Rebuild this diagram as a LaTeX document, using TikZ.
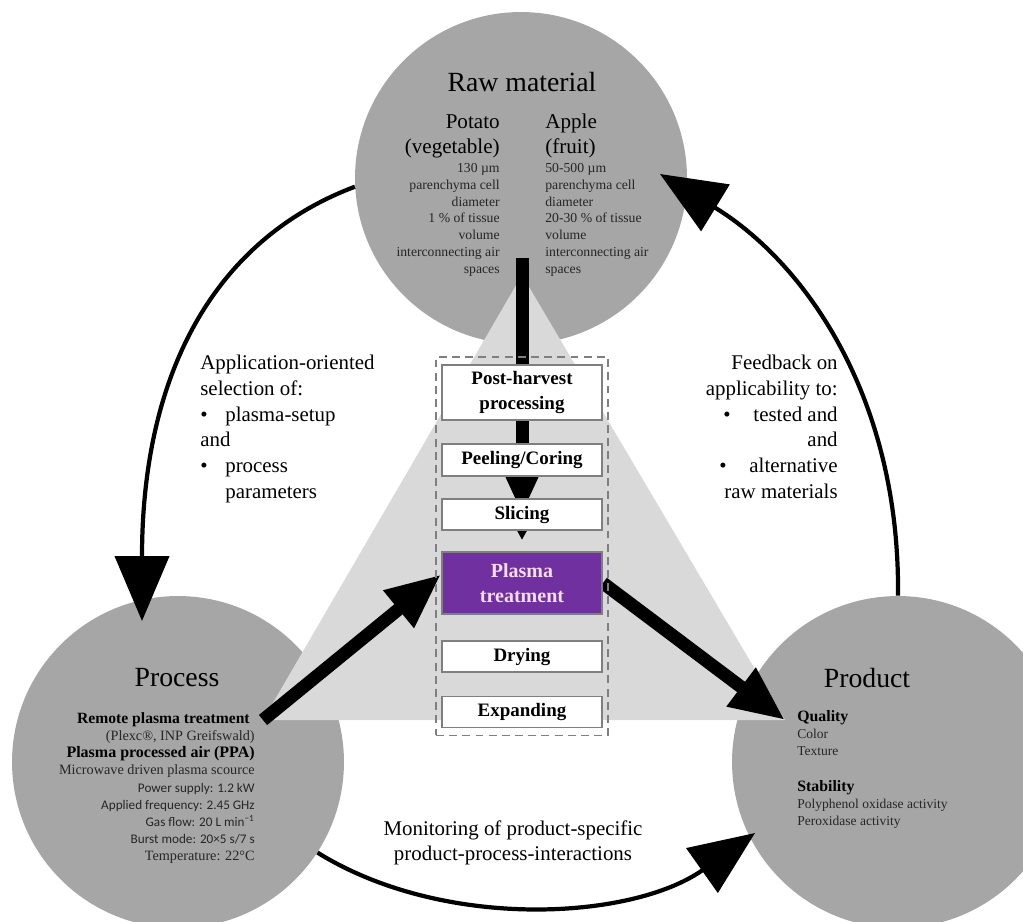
\documentclass[tikz,border=0pt]{standalone}
\usepackage{fontspec}
\setmainfont{Liberation Serif}
\newfontfamily\calfont{Carlito}
\usepackage{tikz}
\usetikzlibrary{arrows.meta,fit}

\definecolor{circgray}{HTML}{A6A6A6}
\definecolor{trigray}{HTML}{D9D9D9}
\definecolor{boxgray}{HTML}{7F7F7F}
\definecolor{plasmapurple}{HTML}{7030A0}
\definecolor{plasmatext}{HTML}{F4DDEA}
\definecolor{notegray}{HTML}{262626}

\pgfdeclarelayer{back}
\pgfdeclarelayer{mid}
\pgfsetlayers{back,mid,main}

\begin{document}
\begin{tikzpicture}[
    x=0.02cm, y=-0.02cm,
    circ/.style={circle, fill=circgray, minimum size=6.64cm, inner sep=0pt},
    circtitle/.style={font=\fontsize{15.8}{18}\selectfont, inner sep=0pt},
    fruit/.style={font=\fontsize{12}{14.2}\selectfont, inner sep=0pt},
    cellnote/.style={font=\fontsize{7.8}{9.56}\selectfont, text=notegray, inner sep=0pt},
    sidenote/.style={font=\fontsize{11.9}{14.6}\selectfont, inner sep=0pt},
    stepbox/.style={draw=boxgray, line width=1.1pt, fill=white, minimum width=3.2cm,
      inner sep=0pt, align=center, font=\fontsize{10.8}{14.2}\selectfont\bfseries},
    dashbox/.style={draw=boxgray, line width=1.1pt, dash pattern=on 4.5pt off 3pt,
      inner xsep=0.1cm, inner ysep=0.14cm},
    bigarr/.style={-{Triangle[length=1.1cm, width=0.9cm]}, line width=0.26cm},
    smallarr/.style={-{Triangle[length=0.4cm, width=0.4cm]}, line width=0.26cm},
    curvarr/.style={-{Triangle[length=1.3cm, width=1.08cm]}, line width=2.4pt},
  ]

  \useasboundingbox (0,0) rectangle (1023,921);

  % ── Circles and cone ─────────────────────────────────────────────────────

  \begin{pgfonlayer}{back}
    \fill[white] (0,0) rectangle (1023,921);
    \node[circ] (raw)  at (521,178) {};
    \node[circ] (proc) at (178,762) {};
    \node[circ] (prod) at (898,762) {};

    \coordinate (apex) at (522,275);
    \coordinate (tl)   at (263,720);
    \coordinate (tr)   at (785,720);
    \fill[trigray] (apex) -- (tl) -- (tr) -- cycle;
  \end{pgfonlayer}

  % ── Process line ─────────────────────────────────────────────────────────

  \node[stepbox, minimum height=1.1cm]  (post)    at (522,392.5) {Post-harvest\\processing};
  \node[stepbox, minimum height=0.64cm] (peel)    at (522,460)   {Peeling/Coring};
  \node[stepbox, minimum height=0.62cm] (slice)   at (522,514.5) {Slicing};
  \node[stepbox, minimum height=1.24cm, fill=plasmapurple, text=plasmatext,
        font=\fontsize{11.4}{14.6}\selectfont\bfseries] (plasma) at (522,583) {Plasma\\treatment};
  \node[stepbox, minimum height=0.62cm] (dry)     at (522,656.5) {Drying};
  \node[stepbox, minimum height=0.62cm] (expand)  at (522,712)   {Expanding};

  \node[dashbox, fit=(post)(expand)] (line) {};

  % ── Thick arrows (behind the boxes) ──────────────────────────────────────

  \coordinate (rawout) at (522,258);
  \begin{pgfonlayer}{mid}
    \draw[bigarr] (rawout) -- (slice.center);
    \draw[smallarr, shorten >=0.22cm] (slice.center) -- (plasma.north);
    \draw[bigarr] (tl) -- (plasma.174);
    \draw[bigarr] (plasma.east) -- (tr);
  \end{pgfonlayer}

  % ── Circle texts ─────────────────────────────────────────────────────────

  % Raw material
  \node[circtitle] (rawtitle) at (522,82) {Raw material};
  \node[fruit, anchor=north east, align=right] (potato) at (500,114) {Potato\\(vegetable)};
  \node[cellnote, anchor=north east, align=right] (potatonote) at (500,163)
    {130 µm\\parenchyma cell\\diameter\\1 \% of tissue\\volume\\interconnecting air\\spaces};
  \node[fruit, anchor=north west, align=left] (apple) at (545,114) {Apple\\(fruit)};
  \node[cellnote, anchor=north west, align=left] (applenote) at (545,163)
    {50-500 µm\\parenchyma cell\\diameter\\20-30 \% of tissue\\volume\\interconnecting air\\spaces};

  % Process
  \node[circtitle] (proctitle) at (177,678) {Process};
  \node[anchor=north east, align=right, inner sep=0pt, text=notegray,
        font=\fontsize{8.1}{9.8}\selectfont] (procnote) at (255,712)
    {{\color{black}\fontsize{8.9}{9.8}\selectfont\bfseries Remote plasma treatment}\hspace*{0.1cm}\\
     (Plexc®, INP Greifswald)\\
     {\color{black}\fontsize{9.1}{9.8}\selectfont\bfseries Plasma processed air (PPA)}\\
     Microwave driven plasma scource\\
     {\calfont\fontsize{7.5}{9.8}\selectfont Power supply: 1.2 kW}\\
     {\calfont\fontsize{7.5}{9.8}\selectfont Applied frequency: 2.45 GHz}\\
     {\calfont\fontsize{7.5}{9.8}\selectfont Gas flow: 20 L min\textsuperscript{−1}}\\
     {\calfont\fontsize{7.5}{9.8}\selectfont Burst mode: 20×5 s/7 s}\\
     Temperature: 22°C};

  % Product
  \node[circtitle] (prodtitle) at (867,678) {Product};
  \node[anchor=north west, align=left, inner sep=0pt, text=notegray,
        font=\fontsize{7.7}{9.7}\selectfont] (prodnote) at (797,710)
    {{\color{black}\fontsize{9}{9.7}\selectfont\bfseries Quality}\\
     Color\\
     Texture\\[11pt]
     {\color{black}\fontsize{9}{9.7}\selectfont\bfseries Stability}\\
     Polyphenol oxidase activity\\
     Peroxidase activity};

  % ── Cycle texts ──────────────────────────────────────────────────────────

  \node[sidenote, anchor=north west, align=left] (select) at (200,355)
    {Application-oriented\\selection of:\\
     \makebox[14.2pt][l]{•}plasma-setup\\and\\
     \makebox[14.2pt][l]{•}process\\\hspace*{14.2pt}parameters};
  \node[sidenote, anchor=north east, align=right] (feedback) at (838,355)
    {Feedback on\\applicability to:\\•\hspace{13pt}tested and\\and\\
     •\hspace{13pt}alternative\\raw materials};
  \node[sidenote, align=center] (monitor) at (513,843)
    {Monitoring of product-specific\\product-process-interactions};

  % ── Cycle arrows ─────────────────────────────────────────────────────────

  \coordinate (procin) at (142,621);
  \coordinate (rawin)  at (660,174);
  \coordinate (prodin) at (755,833);

  % Raw material -> Process
  \draw[curvarr] (raw.183) .. controls (216,239) and (142,371) .. (procin);
  % Process -> Product
  \draw[curvarr] (proc.-33) .. controls (444,931) and (632,920) .. (prodin);
  % Product -> Raw material
  \draw[curvarr] (prod.north) .. controls (900,396) and (804,262) .. (rawin);

\end{tikzpicture}
\end{document}
